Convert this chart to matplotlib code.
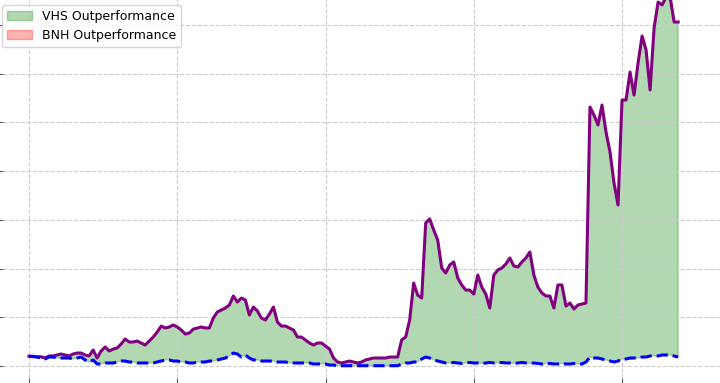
import numpy as np
from matplotlib import pyplot as plt

# cumulative value of the two strategies
vhs = [1.00, 0.95, 0.95, 0.95, 0.82, 1.03, 1.03, 1.13, 1.23, 1.13,
       1.03, 1.23, 1.33, 1.33, 1.13, 1.03, 1.64, 0.82, 1.54, 1.95,
       1.54, 1.74, 1.85, 2.26, 2.77, 2.46, 2.46, 2.56, 2.36, 2.15,
       2.56, 2.97, 3.49, 4.10, 3.90, 4.00, 4.21, 4.00, 3.69, 3.28,
       3.38, 3.79, 3.90, 4.00, 3.90, 3.90, 4.92, 5.54, 5.74, 5.95,
       6.26, 7.18, 6.56, 6.97, 6.77, 5.23, 6.05, 5.64, 4.92, 4.72,
       5.33, 6.05, 4.51, 4.10, 4.10, 3.90, 3.69, 2.97, 2.97, 2.67,
       2.36, 2.15, 2.36, 2.36, 2.05, 1.74, 0.82, 0.41, 0.31, 0.41,
       0.51, 0.41, 0.31, 0.41, 0.62, 0.72, 0.82, 0.82, 0.82, 0.82,
       0.92, 0.92, 0.92, 2.67, 2.97, 4.72, 8.51, 7.28, 6.97, 14.67,
       15.08, 13.95, 12.92, 10.05, 9.54, 10.36, 10.67, 9.03, 8.31, 7.79,
       7.79, 7.38, 9.33, 8.10, 7.38, 5.95, 9.33, 9.85, 10.05, 10.46,
       11.08, 10.26, 10.15, 10.67, 11.08, 11.69, 9.33, 8.10, 7.49, 7.18,
       7.18, 5.95, 8.31, 8.31, 6.15, 6.46, 5.85, 6.26, 6.36, 6.46,
       26.56, 25.74, 24.72, 26.77, 24.00, 21.95, 18.77, 16.51, 27.28, 27.28,
       30.15, 27.79, 31.08, 33.85, 32.41, 28.31, 34.67, 37.33, 37.03, 37.85,
       37.85, 35.28, 35.28]

bnh = [1.00, 1.00, 0.92, 0.82, 0.72, 0.92, 0.92, 0.82, 0.82, 0.82,
       0.82, 0.72, 0.82, 0.92, 0.62, 0.41, 0.62, 0.21, 0.21, 0.31,
       0.31, 0.31, 0.41, 0.51, 0.51, 0.41, 0.41, 0.31, 0.31, 0.31,
       0.31, 0.31, 0.41, 0.51, 0.62, 0.62, 0.51, 0.51, 0.41, 0.41,
       0.31, 0.31, 0.41, 0.41, 0.41, 0.51, 0.51, 0.62, 0.72, 0.82,
       1.03, 1.33, 1.23, 0.92, 1.13, 0.82, 0.62, 0.62, 0.51, 0.51,
       0.51, 0.51, 0.41, 0.41, 0.41, 0.31, 0.31, 0.31, 0.31, 0.31,
       0.31, 0.21, 0.21, 0.21, 0.21, 0.10, 0.10, 0.03, 0.03, 0.03,
       0.03, 0.03, 0.03, 0.03, 0.03, 0.03, 0.03, 0.03, 0.03, 0.03,
       0.03, 0.03, 0.03, 0.21, 0.31, 0.31, 0.41, 0.41, 0.72, 0.92,
       0.82, 0.62, 0.51, 0.41, 0.31, 0.31, 0.36, 0.31, 0.26, 0.31,
       0.36, 0.31, 0.31, 0.26, 0.31, 0.36, 0.31, 0.31, 0.36, 0.31,
       0.31, 0.26, 0.31, 0.36, 0.31, 0.26, 0.31, 0.26, 0.21, 0.26,
       0.26, 0.21, 0.21, 0.26, 0.21, 0.21, 0.26, 0.21, 0.21, 0.41,
       0.92, 0.82, 0.82, 0.72, 0.62, 0.51, 0.41, 0.51, 0.72, 0.72,
       0.82, 0.82, 0.82, 0.92, 0.92, 1.03, 1.03, 1.03, 1.13, 1.13,
       1.13, 1.03, 0.92]

year_ticks = [0, 37, 74, 111, 148]
value_ticks = [0, 5, 10, 15, 20, 25, 30, 35]

vhs = np.array(vhs)
bnh = np.array(bnh)
t = np.arange(len(vhs))

fig = plt.figure(figsize=(7.2, 3.83), dpi=100)
ax = fig.add_axes([3/720, 5/383, 717/720, 1.0496])

ax.fill_between(t, vhs, bnh, where=vhs >= bnh, interpolate=True,
                color='green', alpha=0.3, label='VHS Outperformance')
ax.fill_between(t, vhs, bnh, where=vhs < bnh, interpolate=True,
                color='red', alpha=0.3, label='BNH Outperformance')
ax.plot(t, vhs, color='purple', lw=2.2)
ax.plot(t, bnh, color='blue', lw=2.2, ls='--')

ax.set_xlim(-6.49, 172.45)
ax.set_ylim(-1.23, 40.0)
ax.set_xticks(year_ticks)
ax.set_yticks(value_ticks)
ax.grid(True, ls='--', color='#cccccc', lw=0.8)
for s in ax.spines.values():
    s.set_visible(False)
ax.tick_params(length=4, color='#555555')

ax.legend(loc='lower left', bbox_to_anchor=(2/720, 336/383),
          bbox_transform=fig.transFigure, borderaxespad=0, fontsize=9)

fig.savefig('out.png', dpi=100)
